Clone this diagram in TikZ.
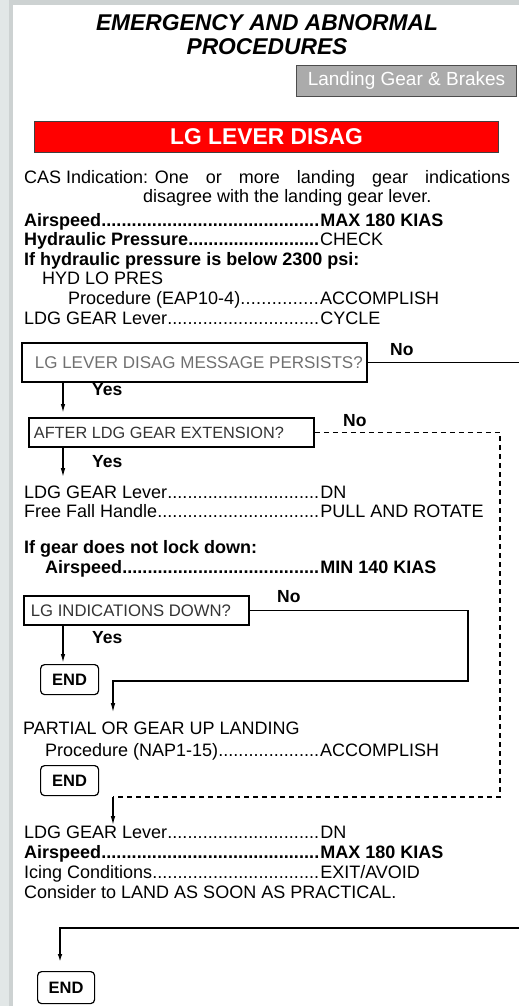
\documentclass[tikz,border=0pt]{standalone}
\usepackage{fontspec}
\setmainfont{Liberation Sans}
\usetikzlibrary{arrows.meta,positioning}
\definecolor{pagegray}{HTML}{E2E7E7}
\definecolor{edgegray}{HTML}{CDD2D2}
\definecolor{tabgray}{HTML}{ABABAB}
\definecolor{qgray}{HTML}{707070}
\definecolor{qdark}{HTML}{333333}
\newcommand{\fs}[1]{\fontsize{#1pt}{#1pt}\selectfont}
\newcommand{\ckrow}[3]{\makebox[#1][l]{#2\xleaders\hbox{.}\hfill\kern1pt}#3}
\tikzset{
    row/.style={
    anchor=base west,inner sep=0pt,font=\fs{18}
    },
    brow/.style={
    row,font=\fs{18}\bfseries
    },
    query/.style={
    draw=black,line width=1.8pt,anchor=north west,inner sep=0pt,font=\fs{16.5}
    },
    endbox/.style={
    draw=black,line width=1.2pt,rounded corners=4pt,anchor=north west,inner sep=0pt,
    minimum width=58pt,minimum height=30pt,font=\fs{16.5}\bfseries
    },
    answer/.style={
    anchor=base west,inner sep=0pt,font=\fs{17.5}\bfseries
    },
    flow/.style={
    line width=1.4pt,-{Latex[length=9pt,width=4.5pt]}
    },
}

\begin{document}
\begin{tikzpicture}[x=1pt,y=-1pt]
   \useasboundingbox (0,0) rectangle (519,1006);
   \fill[pagegray] (0,0) rectangle (9,1006);
   \fill[edgegray] (9,0) rectangle (13,1006);
   \fill[edgegray] (13,0) rectangle (519,5);

   % header
   \node[font=\fs{22.8}\bfseries\itshape] (title) at (267,22.5) {EMERGENCY AND ABNORMAL};
   \node[font=\fs{22.8}\bfseries\itshape] (title2) at (267,46.5) {PROCEDURES};
   \node[draw=black!70,fill=tabgray,line width=1pt,anchor=north west,minimum width=220pt,
         minimum height=31pt,text=white,font=\fs{19}] (tab) at (296,65) {Landing Gear \& Brakes};
   \node[draw=black!75,fill=red,line width=1pt,anchor=north west,minimum width=464pt,
         minimum height=31pt,text=white,font=\fs{22.8}\bfseries] (alert) at (34,121) {LG LEVER DISAG};

   \node[row] (cas) at (24,183.5) {\hbox to 486pt{CAS Indication: One\hfill or\hfill more\hfill landing\hfill gear\hfill indications}};
   \node[row] (cas2) at (143,202) {disagree with the landing gear lever.};

   \node[brow] (airspeed) at (24,226) {\ckrow{296pt}{Airspeed}{MAX 180 KIAS}};
   \node[row] (hydpress) at (24,245.5) {\ckrow{296pt}{\bfseries Hydraulic Pressure}{CHECK}};
   \node[brow] (hydcheck) at (24,265) {If hydraulic pressure is below 2300 psi:};
   \node[row] (hydlow) at (42,284.5) {HYD LO PRES};
   \node[row] (eapproc) at (68,304.5) {\ckrow{252pt}{Procedure (EAP10-4)}{ACCOMPLISH}};
   \node[row] (cycle) at (24,324.5) {\ckrow{296pt}{LDG GEAR Lever}{CYCLE}};

   % decisions
   \coordinate (spine) at (63,0);
   \coordinate (rim) at (519,0);
   \node[query,minimum height=39pt,text=qgray,font=\fs{17}] (persists) at (21,342)
        {\makebox[345pt][l]{\hspace{13pt}LG LEVER DISAG MESSAGE PERSISTS?}};
   \node[answer] (no1) at (390,355) {No};
   \node[answer] (yes1) at (92,395) {Yes};
   \node[query,minimum height=29pt,text=qdark,font=\fs{16.3}] (extension) at (28,417)
        {\makebox[285pt][l]{\hspace{5pt}AFTER LDG GEAR EXTENSION?}};
   \node[answer] (no2) at (343,426) {No};
   \node[answer] (yes2) at (92,467) {Yes};

   \node[row] (leverdn) at (24,498) {\ckrow{296pt}{LDG GEAR Lever}{DN}};
   \node[row] (freefall) at (24,517) {\ckrow{296pt}{Free Fall Handle}{PULL AND ROTATE}};
   \node[brow] (nolock) at (24,553) {If gear does not lock down:};
   \node[brow] (minspeed) at (45,573) {\ckrow{275pt}{Airspeed}{MIN 140 KIAS}};

   \node[query,minimum height=29pt,text=qdark,font=\fs{16.7}] (down) at (23,595)
        {\makebox[225pt][l]{\hspace{7pt}LG INDICATIONS DOWN?}};
   \node[answer] (no3) at (277,602) {No};
   \node[answer] (yes3) at (92,643) {Yes};
   \node[endbox] (end1) at (40,664) {END};

   \node[row] (partial) at (23,734) {PARTIAL OR GEAR UP LANDING};
   \node[row] (napproc) at (45,756) {\ckrow{275pt}{Procedure (NAP1-15)}{ACCOMPLISH}};
   \node[endbox] (end2) at (40,765) {END};

   \node[row] (leverdn2) at (24,838) {\ckrow{296pt}{LDG GEAR Lever}{DN}};
   \node[brow] (maxspeed) at (24,858) {\ckrow{296pt}{Airspeed}{MAX 180 KIAS}};
   \node[row] (icing) at (24,878) {\ckrow{296pt}{Icing Conditions}{EXIT/AVOID}};
   \node[row] (consider) at (24,898) {Consider to LAND AS SOON AS PRACTICAL.};
   \node[endbox,minimum width=57pt,minimum height=32pt] (end3) at (37,971) {END};

   \coordinate (nocorner) at (468,681);
   \coordinate (nodrop) at (113,681);
   \coordinate (dashcorner) at (500,797);
   \coordinate (dashdrop) at (113,797);
   \coordinate (lastrim) at (519,928);
   \coordinate (lastdrop) at (60,928);

  \draw[line width=1.8pt] (persists.east) -- (persists.east -| rim);
  \draw[flow,shorten >=4pt] (persists.south -| spine) -- (extension.north -| spine);
  \draw[flow,shorten >=8pt] (extension.south -| spine) -- (leverdn.north -| spine);
  \draw[line width=1.5pt,dash pattern=on 5pt off 4pt] (extension.east) -| (dashcorner) -- (dashdrop);
  \draw[flow] (dashdrop) -- (leverdn2.north -| dashdrop);
  \draw[flow,shorten >=1pt] (down.south -| spine) -- (end1.north -| spine);
  \draw[flow,line width=1.2pt,shorten >=9pt] (down.east) -| (nocorner) -- (nodrop) -- (partial.north -| nodrop);
  \draw[flow,line width=1.8pt,shorten >=8pt] (lastrim) -- (lastdrop) -- (end3.north -| lastdrop);
\end{tikzpicture}
\end{document}
